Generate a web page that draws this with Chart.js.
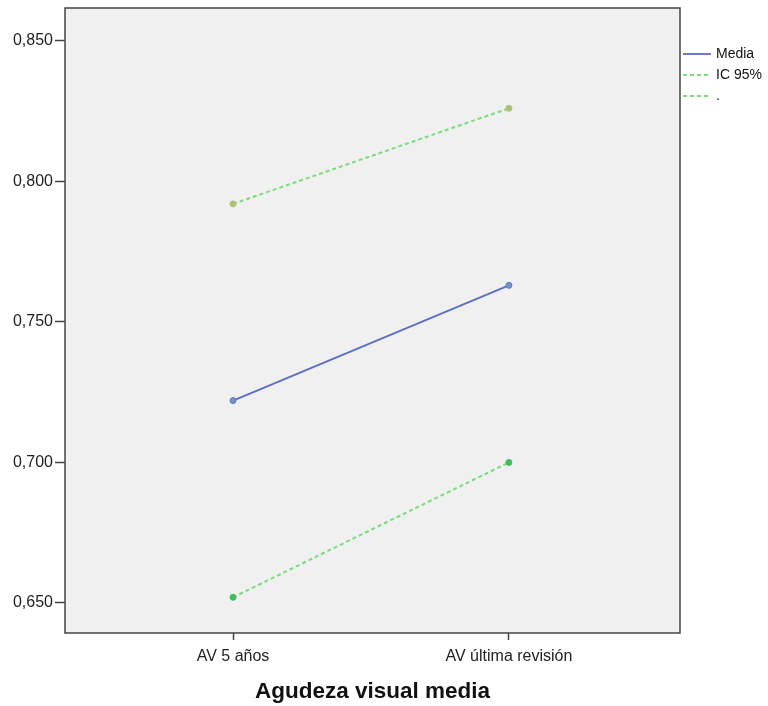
<!DOCTYPE html>
<html>
<head>
<meta charset="utf-8">
<script src="https://cdn.jsdelivr.net/npm/chart.js@4"></script>
<style>
  html, body { margin: 0; padding: 0; background: #ffffff; }
  #wrap { width: 768px; height: 706px; }
</style>
</head>
<body>
<div id="wrap"><canvas id="chart" width="768" height="706"></canvas></div>
<script>
// Datos
const categorias = ['AV 5 años', 'AV última revisión'];
const media = [0.722, 0.763];
const icSuperior = [0.792, 0.826];
const icInferior = [0.652, 0.700];
const yTicks = [0.65, 0.70, 0.75, 0.80, 0.85];

const toPoints = arr => arr.map((v, i) => ({ x: i, y: v }));

// Fondo y borde del área de trazado
const plotFrame = {
    id: 'plotFrame',
    beforeDraw(chart) {
        const { ctx, chartArea: a } = chart;
        ctx.save();
        ctx.fillStyle = '#f0f0f0';
        ctx.fillRect(a.left, a.top, a.right - a.left, a.bottom - a.top);
        ctx.restore();
    },
    afterDraw(chart) {
        const { ctx, chartArea: a } = chart;
        ctx.save();
        ctx.strokeStyle = '#444444';
        ctx.lineWidth = 1.5;
        ctx.strokeRect(a.left, a.top, a.right - a.left, a.bottom - a.top);
        ctx.restore();
    }
};

// Leyenda a la derecha, fuera del área
const sideLegend = {
    id: 'sideLegend',
    afterDraw(chart) {
        const { ctx, chartArea: a } = chart;
        ctx.save();
        ctx.font = '14px "Liberation Sans", Arial, sans-serif';
        ctx.textBaseline = 'middle';
        chart.data.datasets.forEach((ds, i) => {
            const y = 54 + i * 21;
            const x0 = a.right + 3;
            ctx.strokeStyle = ds.borderColor;
            ctx.lineWidth = ds.borderWidth;
            ctx.setLineDash(ds.borderDash || []);
            ctx.beginPath();
            ctx.moveTo(x0, y);
            ctx.lineTo(x0 + 28, y);
            ctx.stroke();
            ctx.setLineDash([]);
            ctx.fillStyle = '#111111';
            ctx.fillText(ds.label, x0 + 33, y);
        });
        ctx.restore();
    }
};

const ctx = document.getElementById('chart').getContext('2d');
new Chart(ctx, {
    type: 'line',
    data: {
        datasets: [
            {
                label: 'Media',
                data: toPoints(media),
                borderColor: '#5b6fc2',
                backgroundColor: '#7393c8',
                pointBorderColor: '#5b7fb8',
                borderWidth: 1.8,
                pointRadius: 3,
                pointBorderWidth: 1,
                pointHoverRadius: 3
            },
            {
                label: 'IC 95%',
                data: toPoints(icSuperior),
                borderColor: '#79db79',
                backgroundColor: '#a9c46a',
                pointBorderColor: '#b0c080',
                borderWidth: 2,
                borderDash: [4, 3],
                pointRadius: 3,
                pointBorderWidth: 1,
                pointHoverRadius: 3
            },
            {
                label: '.',
                data: toPoints(icInferior),
                borderColor: '#79db79',
                backgroundColor: '#3fbf5a',
                pointBorderColor: '#3fbf5a',
                borderWidth: 2,
                borderDash: [4, 3],
                pointRadius: 3,
                pointBorderWidth: 1,
                pointHoverRadius: 3
            }
        ]
    },
    options: {
        responsive: false,
        animation: false,
        layout: { padding: { top: 8, right: 88, left: 0, bottom: 0 } },
        plugins: { legend: { display: false }, tooltip: { enabled: false } },
        scales: {
            x: {
                type: 'linear',
                min: -0.609,
                max: 1.62,
                afterBuildTicks: s => { s.ticks = categorias.map((c, i) => ({ value: i })); },
                afterFit: s => { s.height = 73; s.paddingLeft = 0; s.paddingRight = 0; },
                grid: { drawOnChartArea: false, tickLength: 7, color: '#444444', tickWidth: 1.5 },
                border: { display: false },
                ticks: {
                    callback: v => categorias[v],
                    color: '#222222',
                    padding: 7,
                    maxRotation: 0,
                    font: { family: '"Liberation Sans", Arial, sans-serif', size: 16 }
                },
                title: {
                    display: true,
                    text: 'Agudeza visual media',
                    color: '#111111',
                    padding: { top: 8, bottom: 1 },
                    font: { family: '"Liberation Sans", Arial, sans-serif', size: 22.5, weight: 'bold' }
                }
            },
            y: {
                type: 'linear',
                min: 0.6393,
                max: 0.8617,
                afterBuildTicks: s => { s.ticks = yTicks.map(v => ({ value: v })); },
                afterFit: s => { s.width = 65; s.paddingTop = 0; s.paddingBottom = 0; },
                grid: { drawOnChartArea: false, tickLength: 10, color: '#444444', tickWidth: 1.5 },
                border: { display: false },
                ticks: {
                    callback: v => v.toFixed(3).replace('.', ','),
                    color: '#222222',
                    padding: 2,
                    font: { family: '"Liberation Sans", Arial, sans-serif', size: 16 }
                }
            }
        }
    },
    plugins: [plotFrame, sideLegend]
});
</script>
</body>
</html>
